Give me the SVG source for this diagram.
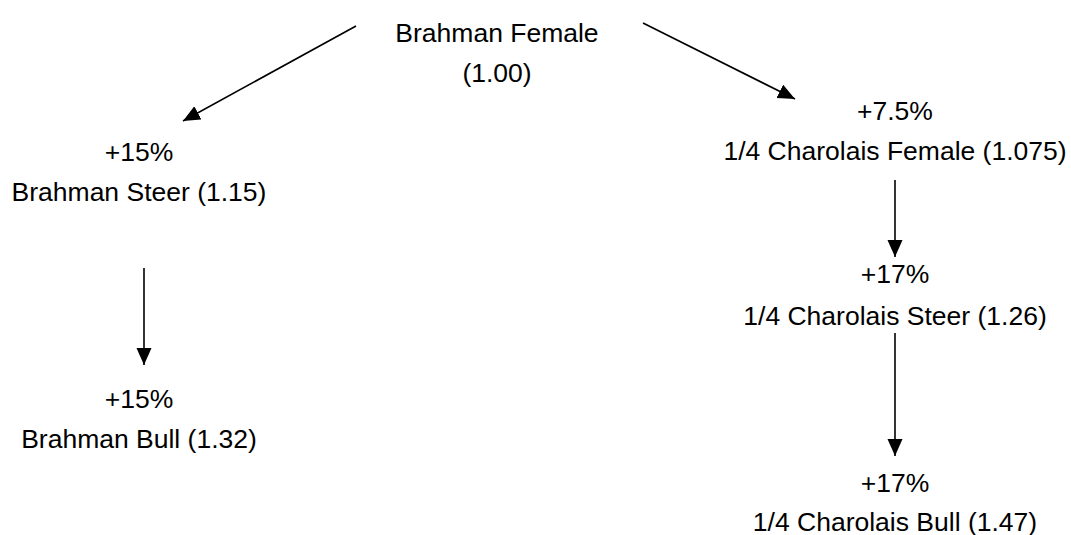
<svg xmlns="http://www.w3.org/2000/svg" width="1071" height="535" viewBox="0 0 1071 535">
<style>
text{font-family:"Liberation Sans",Arial,sans-serif;font-size:26.5px;fill:#000;text-anchor:middle}
.c{stroke:#000;stroke-width:1.6;fill:none;marker-end:url(#ah)}
</style>
<defs>
<marker id="ah" markerUnits="userSpaceOnUse" markerWidth="18" markerHeight="16" refX="17" refY="7.5" orient="auto" viewBox="0 0 18 16">
<path d="M0,0 L17,7.5 L0,15 z" fill="#000"/>
</marker>
</defs>
<rect width="1071" height="535" fill="#fff"/>
<g id="connectors">
<line class="c" x1="356" y1="26" x2="183" y2="121"/>
<line class="c" x1="643" y1="23" x2="795" y2="99"/>
<line class="c" x1="144" y1="268" x2="144" y2="365"/>
<line class="c" x1="895" y1="180" x2="895" y2="257"/>
<line class="c" x1="895" y1="333" x2="895" y2="456"/>
</g>
<g id="brahman-female"><text x="497" y="42">Brahman Female</text><text x="497" y="82">(1.00)</text></g>
<g id="brahman-steer"><text x="139" y="161">+15%</text><text x="139" y="201">Brahman Steer (1.15)</text></g>
<g id="brahman-bull"><text x="139" y="408">+15%</text><text x="139" y="448">Brahman Bull (1.32)</text></g>
<g id="charolais-female"><text x="895" y="120">+7.5%</text><text x="895" y="160">1/4 Charolais Female (1.075)</text></g>
<g id="charolais-steer"><text x="895" y="283">+17%</text><text x="895" y="325">1/4 Charolais Steer (1.26)</text></g>
<g id="charolais-bull"><text x="895" y="492">+17%</text><text x="895" y="531">1/4 Charolais Bull (1.47)</text></g>
</svg>
